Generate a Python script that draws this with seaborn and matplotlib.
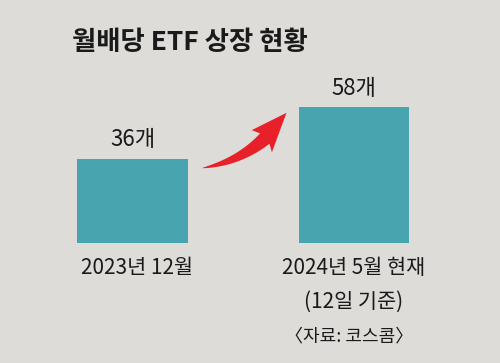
import matplotlib
matplotlib.use("Agg")
import matplotlib.pyplot as plt
from matplotlib.patches import ArrowStyle
from matplotlib.path import Path
import numpy as np
import seaborn as sns

categories = ["2023년 12월", "2024년 5월 현재"]
values = [36, 58]
value_labels = ["36개", "58개"]
sub_labels = ["", "(12일 기준)"]
title = "월배당 ETF 상장 현황"
source = "〈자료: 코스콤〉"

bg = "#dddcd8"
teal = "#48a4ae"
red = "#e8202a"


class TaperArrow(ArrowStyle._Base):
    """Curved arrow whose tail tapers to a point."""

    def __init__(self, head_length=1.0, head_width=0.9, tail_width=0.42):
        self.head_length = head_length
        self.head_width = head_width
        self.tail_width = tail_width
        super().__init__()

    def transmute(self, path, mutation_size, linewidth):
        v = path.vertices
        if len(v) >= 3:
            p0, p1, p2 = v[0], v[1], v[2]
        else:
            p0, p2 = v[0], v[-1]
            p1 = (p0 + p2) / 2
        t = np.linspace(0, 1, 120)[:, None]
        pts = (1 - t) ** 2 * p0 + 2 * (1 - t) * t * p1 + t ** 2 * p2
        d = 2 * (1 - t) * (p1 - p0) + 2 * t * (p2 - p1)
        d = d / np.hypot(d[:, 0], d[:, 1])[:, None]
        n = np.column_stack([-d[:, 1], d[:, 0]])
        seg = np.hypot(*np.diff(pts, axis=0).T)
        s = np.concatenate([[0], np.cumsum(seg)])
        L = s[-1]
        hl = self.head_length * mutation_size
        hw = self.head_width * mutation_size / 2
        tw = self.tail_width * mutation_size / 2
        sb = max(L - hl, 1e-6)
        idx = s <= sb
        tp = pts[idx]
        tn = n[idx]
        w = tw * (s[idx] / sb) ** 0.8
        left = tp + tn * w[:, None]
        right = tp - tn * w[:, None]
        base = tp[-1]
        bn = tn[-1]
        bd = d[idx][-1]
        head_left = base + bn * hw - bd * hl * 0.12
        head_right = base - bn * hw - bd * hl * 0.12
        poly = np.vstack([left, [head_left], [p2], [head_right], right[::-1],
                          [left[0]]])
        codes = [Path.MOVETO] + [Path.LINETO] * (len(poly) - 2) + [Path.CLOSEPOLY]
        return Path(poly, codes), True


sns.set_theme(style="white")
plt.rcParams["font.family"] = ["Noto Sans CJK KR", "DejaVu Sans"]

fig = plt.figure(figsize=(5, 3.63), dpi=100, facecolor=bg)
ax = fig.add_axes([0, 120 / 363, 1, 243 / 363])
ax.set_facecolor(bg)

sns.barplot(x=list(range(len(values))), y=values, ax=ax, color=teal,
            width=0.5, saturation=1, native_scale=True, linewidth=0,
            edgecolor="none")

ax.set_xlim(-0.598, 1.659)
ax.set_ylim(0, 103.8)
ax.axis("off")

for i, (v, lab) in enumerate(zip(values, value_labels)):
    ax.text(i, v + 8.0, lab, ha="center", va="center", fontsize=16,
            color="#1a1a1a")

for i, (cat, sub) in enumerate(zip(categories, sub_labels)):
    ax.text(i + (0.02 if i == 0 else 0), -10.7, cat, ha="center", va="center",
            fontsize=15, color="#1a1a1a")
    if sub:
        ax.text(i, -25.2, sub, ha="center", va="center", fontsize=15,
                color="#1a1a1a")

ax.text(1 - 0.02, -40.0, source, ha="center", va="center", fontsize=13,
        color="#1a1a1a")

fig.text(190 / 500, 1 - 43 / 363, title, ha="center", va="center",
         fontsize=19, fontweight="bold", color="#1a1a1a")

ax.annotate("", xy=(0.695, 55.6), xytext=(0.314, 32.0),
            arrowprops=dict(arrowstyle=TaperArrow(head_length=1.0, head_width=0.9,
                                                  tail_width=0.42),
                            connectionstyle="arc3,rad=0.22", color=red,
                            mutation_scale=24, shrinkA=0, shrinkB=0, lw=0))

fig.savefig("out.png", dpi=100, facecolor=bg)
